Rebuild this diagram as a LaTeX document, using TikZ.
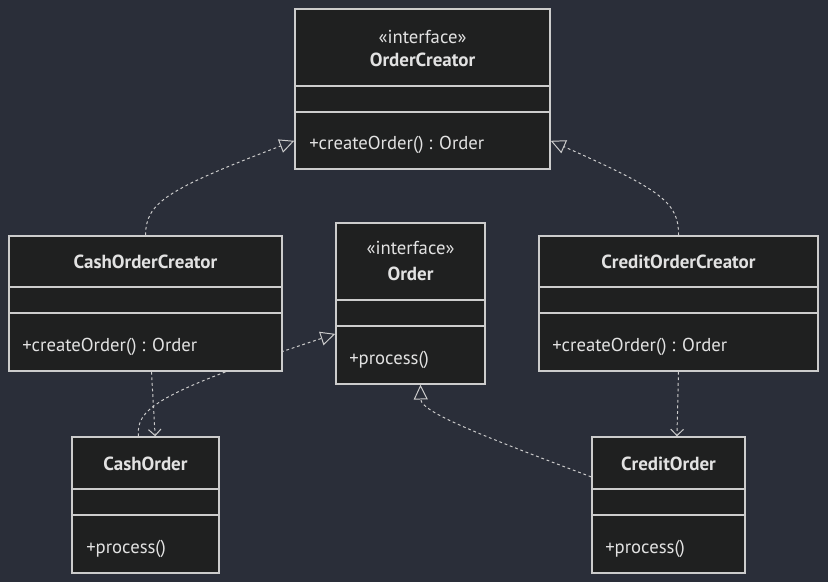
\documentclass[tikz,border=0pt]{standalone}
\usepackage{fontspec}
\setmainfont{PT Sans}
\usetikzlibrary{shapes,arrows.meta,positioning}
\pgfdeclarelayer{background}
\pgfsetlayers{background,main}
\definecolor{bgdark}{HTML}{2A2E39}
\definecolor{boxfill}{HTML}{1F2020}
\definecolor{boxline}{HTML}{CCCCCC}
\definecolor{txt}{HTML}{E2E2E2}
\tikzstyle{classbox} = [rectangle, draw=boxline, fill=boxfill,
    line width=1pt, inner sep=0pt]
\tikzstyle{divider} = [draw=boxline, line width=0.9pt]
\tikzstyle{classname} = [text=txt, inner sep=0pt,
    font=\fontsize{13.5}{15}\selectfont\bfseries]
\tikzstyle{stereo} = [text=txt, inner sep=0pt,
    font=\fontsize{13.3}{15}\selectfont]
\tikzstyle{member} = [text=txt, inner sep=0pt, anchor=west,
    font=\fontsize{13.3}{15}\selectfont]
\tikzstyle{realize} = [draw=boxline, line width=0.7pt, dash pattern=on 2pt off 2pt,
    -{Triangle[open, length=10.5pt, width=10pt]}]
\tikzstyle{depend} = [draw=boxline, line width=0.7pt, dash pattern=on 2pt off 2pt,
    -{Straight Barb[length=4.5pt, width=9pt]}]

\begin{document}
\begin{tikzpicture}[x=0.025cm, y=-0.025cm]
 % Place nodes
    \node[classbox, minimum width=6.375cm, minimum height=4cm] (oc) at (422.5,89) {};
    \node[classbox, minimum width=6.825cm, minimum height=3.375cm] (cco) at (145.5,303.5) {};
    \node[classbox, minimum width=3.725cm, minimum height=4.025cm] (ord) at (410.5,303.5) {};
    \node[classbox, minimum width=6.975cm, minimum height=3.375cm] (cro) at (678.5,303.5) {};
    \node[classbox, minimum width=3.675cm, minimum height=3.4cm] (co) at (145.5,505) {};
    \node[classbox, minimum width=3.825cm, minimum height=3.4cm] (cr) at (668.5,505) {};

    % Compartments
    \path[divider] (oc.west |- 0,86) -- (oc.east |- 0,86);
    \path[divider] (oc.west |- 0,112) -- (oc.east |- 0,112);
    \path[divider] (cco.west |- 0,287) -- (cco.east |- 0,287);
    \path[divider] (cco.west |- 0,313) -- (cco.east |- 0,313);
    \path[divider] (ord.west |- 0,300) -- (ord.east |- 0,300);
    \path[divider] (ord.west |- 0,326) -- (ord.east |- 0,326);
    \path[divider] (cro.west |- 0,287) -- (cro.east |- 0,287);
    \path[divider] (cro.west |- 0,313) -- (cro.east |- 0,313);
    \path[divider] (co.west |- 0,489) -- (co.east |- 0,489);
    \path[divider] (co.west |- 0,515) -- (co.east |- 0,515);
    \path[divider] (cr.west |- 0,489) -- (cr.east |- 0,489);
    \path[divider] (cr.west |- 0,515) -- (cr.east |- 0,515);

    % Texts
    \node[stereo] (ocst) at (422.5,37) {«interface»};
    \node[classname] (ocname) at (422.5,60) {OrderCreator};
    \node[member] (ocop) at (309,145) {+createOrder() : Order};
    \node[classname] (cconame) at (145.5,262) {CashOrderCreator};
    \node[member] (ccoop) at (22,347) {+createOrder() : Order};
    \node[stereo] (ordst) at (410.5,248) {«interface»};
    \node[classname] (ordname) at (410.5,274) {Order};
    \node[member] (ordop) at (349,360) {+process()};
    \node[classname] (croname) at (678.5,262) {CreditOrderCreator};
    \node[member] (croop) at (552,347) {+createOrder() : Order};
    \node[classname] (coname) at (145.5,464) {CashOrder};
    \node[member] (coop) at (86,549) {+process()};
    \node[classname] (crname) at (668.5,464) {CreditOrder};
    \node[member] (crop) at (605,549) {+process()};

    % Draw edges
    \begin{pgfonlayer}{background}
    \fill[bgdark] (0,0) rectangle (828,582);
    \path[realize] (cco.north) .. controls (146,203) and (165,190) .. (oc.202);
    \path[realize] (cro.north) .. controls (679,203) and (662,190) .. (oc.338);
    \path[depend] (cco.275) -- (co.82);
    \path[depend] (cro.south) -- (cr.83);
    \path[realize] (co.96) .. controls (137,410) and (150,395) .. (ord.202);
    \path[realize] (cr.160) .. controls (480,435) and (421,412) .. (ord.277);
    \end{pgfonlayer}
\end{tikzpicture}
\end{document}
